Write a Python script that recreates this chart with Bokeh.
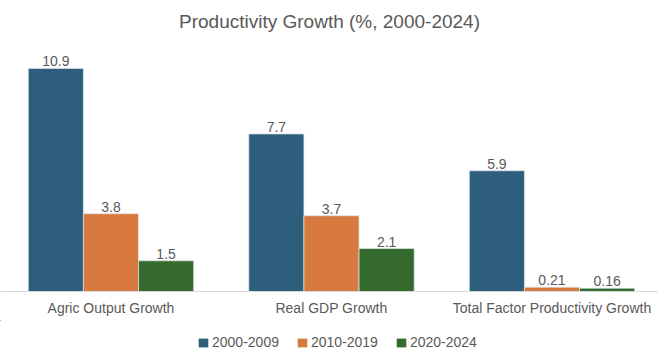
from bokeh.plotting import figure
from bokeh.layouts import column
from bokeh.models import ColumnDataSource, Range1d, FixedTicker, Legend, LegendItem, LabelSet
from bokeh.core.properties import value
from bokeh.transform import dodge
from bokeh.embed import file_html
from bokeh.resources import INLINE

categories = ["Agric Output Growth", "Real GDP Growth", "Total Factor Productivity Growth"]
periods = ["2000-2009", "2010-2019", "2020-2024"]
v_2000_2009 = [10.9, 7.7, 5.9]
v_2010_2019 = [3.8, 3.7, 0.21]
v_2020_2024 = [1.5, 2.1, 0.16]

colors = ["#2d5e7c", "#d8793f", "#346b2c"]
FONT = "Liberation Sans"
GRAY = "#595959"
EDGE = "#dfe7ec"

idx = list(range(len(categories)))
src = ColumnDataSource(dict(
    x=idx,
    a=v_2000_2009, b=v_2010_2019, c=v_2020_2024,
    la=[str(v) for v in v_2000_2009],
    lb=[str(v) for v in v_2010_2019],
    lc=[str(v) for v in v_2020_2024],
))

p = figure(width=658, height=320, output_backend="svg", toolbar_location=None,
           x_range=Range1d(-0.501, 2.483), y_range=Range1d(0, 12.46),
           min_border_left=0, min_border_right=0, min_border_top=36, min_border_bottom=29,
           title="Productivity Growth (%, 2000-2024)")
p.title.align = "center"
p.title.text_font = FONT
p.title.text_font_size = "19px"
p.title.text_font_style = "normal"
p.title.text_color = GRAY

offsets = [-0.25, 0.0, 0.25]
cols = ["a", "b", "c"]
lcols = ["la", "lb", "lc"]
for off, col, lcol, color in zip(offsets, cols, lcols, colors):
    p.vbar(x=dodge("x", off, range=p.x_range), top=col, width=0.25, source=src,
           fill_color=color, line_color=EDGE, line_width=1, line_alpha=0.7)
    labels = LabelSet(x=dodge("x", off, range=p.x_range), y=col, text=lcol, source=src,
                      text_align="center", text_baseline="bottom", y_offset=2,
                      text_font=value(FONT), text_font_size="14px", text_color=GRAY)
    p.add_layout(labels)

p.yaxis.visible = False
p.xgrid.visible = False
p.ygrid.visible = False
p.outline_line_color = None

xa = p.xaxis[0]
xa.ticker = FixedTicker(ticks=idx)
xa.major_label_overrides = {i: c for i, c in zip(idx, categories)}
xa.major_tick_line_color = None
xa.minor_tick_line_color = None
xa.major_tick_out = 0
xa.major_tick_in = 0
xa.minor_tick_out = 0
xa.axis_line_color = "#d9d9d9"
xa.major_label_text_font = FONT
xa.major_label_text_font_size = "14px"
xa.major_label_text_color = GRAY
xa.major_label_standoff = 8

# legend strip below the chart (its zero-size renderers draw nothing visible)
lg = figure(width=658, height=29, output_backend="svg", toolbar_location=None,
            x_range=Range1d(100, 101), y_range=Range1d(-2, -1), min_border=0)
lg.axis.visible = False
lg.grid.visible = False
lg.outline_line_color = None
items = []
for col, color, name in zip(cols, colors, periods):
    r = lg.vbar(x="x", top=col, bottom=col, width=0, source=src,
                fill_color=color, line_color=None)
    items.append(LegendItem(label=name, renderers=[r]))

legend = Legend(items=items, orientation="horizontal", location=(197, -1),
                label_text_font=FONT, label_text_font_size="14px", label_text_color=GRAY,
                glyph_width=12, glyph_height=11, label_standoff=3, spacing=17,
                label_height=14, padding=0, margin=0, border_line_color=None,
                background_fill_alpha=0)
lg.add_layout(legend, "center")

layout = column(p, lg, spacing=0)
open("out.html", "w").write(file_html(layout, INLINE))
